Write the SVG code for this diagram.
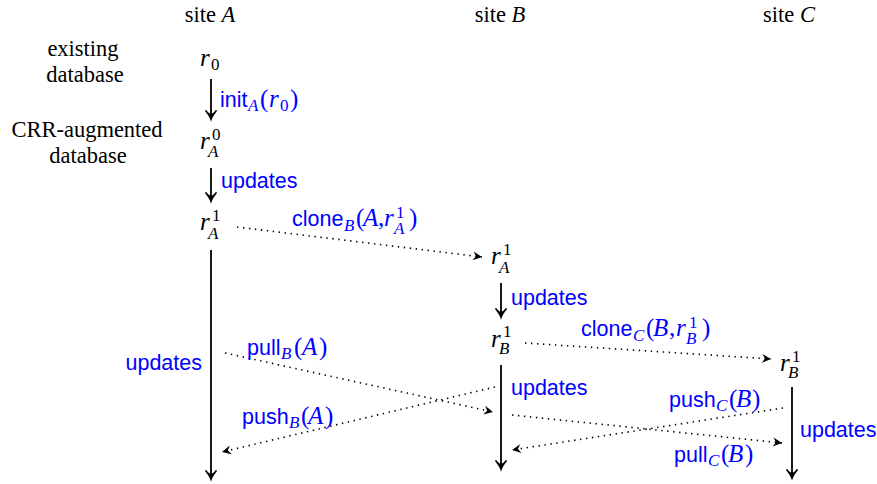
<svg xmlns="http://www.w3.org/2000/svg" width="877" height="484" viewBox="0 0 877 484">
<style>
.t{font-family:"Liberation Serif","Times New Roman",serif;font-size:22.5px;fill:#000}
.m{font-family:"Liberation Serif","Times New Roman",serif;font-size:25px;fill:#000}
.mb{font-family:"Liberation Serif","Times New Roman",serif;font-size:25px;fill:#0000ff}
.i{font-style:italic}
.s{font-size:17px}
.l{font-family:"Liberation Sans",Arial,sans-serif;font-size:21.5px;fill:#0000ff}
.solid{stroke:#000;stroke-width:1.8;fill:none}
.dot{stroke:#000;stroke-width:1.6;stroke-dasharray:1.4 4.6;fill:none}
</style>
<defs>
<marker id="ah" markerUnits="userSpaceOnUse" markerWidth="20" markerHeight="20" viewBox="-10 -10 20 20" refX="0" refY="0" orient="auto" overflow="visible">
<path d="M-8,-5 Q-3,-1 0,0 Q-3,1 -8,5" stroke="#000" stroke-width="1.8" fill="none" stroke-linecap="round"/>
<path d="M-7,-3.5 L0,0 L-7,3.5 Q-4,0 -7,-3.5 Z" fill="#000"/>
</marker>
<marker id="dh" markerUnits="userSpaceOnUse" markerWidth="20" markerHeight="20" viewBox="-10 -10 20 20" refX="0" refY="0" orient="auto" overflow="visible">
<path d="M0,0 L-9,-4.5 L-6,0 L-9,4.5 Z" fill="#000"/>
</marker>
</defs>

<g id="headers">
<text class="t" x="210" y="22" text-anchor="middle">site <tspan class="i">A</tspan></text>
<text class="t" x="500" y="22" text-anchor="middle">site <tspan class="i">B</tspan></text>
<text class="t" x="789" y="22" text-anchor="middle">site <tspan class="i">C</tspan></text>
</g>
<g id="side-labels">
<text class="t" x="83" y="56" text-anchor="middle">existing</text>
<text class="t" x="85" y="82" text-anchor="middle">database</text>
<text class="t" x="87" y="137" text-anchor="middle">CRR-augmented</text>
<text class="t" x="88" y="163" text-anchor="middle">database</text>
</g>

<g id="node-r0">
<text class="m"><tspan class="i" x="200" y="66">r</tspan><tspan class="s" x="211" y="70">0</tspan></text>
</g>
<g id="node-rA0">
<text class="m"><tspan class="i" x="200" y="149">r</tspan><tspan class="s" x="212" y="140">0</tspan><tspan class="s i" x="208" y="157">A</tspan></text>
</g>
<g id="node-rA1-siteA">
<text class="m"><tspan class="i" x="200" y="230">r</tspan><tspan class="s" x="212" y="221">1</tspan><tspan class="s i" x="208" y="239">A</tspan></text>
</g>
<g id="node-rA1-siteB">
<text class="m"><tspan class="i" x="491" y="264">r</tspan><tspan class="s" x="503" y="255">1</tspan><tspan class="s i" x="499" y="273">A</tspan></text>
</g>
<g id="node-rB1-siteB">
<text class="m"><tspan class="i" x="491" y="347">r</tspan><tspan class="s" x="503" y="337">1</tspan><tspan class="s i" x="499" y="354">B</tspan></text>
</g>
<g id="node-rB1-siteC">
<text class="m"><tspan class="i" x="780" y="371">r</tspan><tspan class="s" x="792" y="362">1</tspan><tspan class="s i" x="788" y="378">B</tspan></text>
</g>

<g id="connectors">
<line class="solid" x1="211" y1="79" x2="211" y2="119" marker-end="url(#ah)"/>
<line class="solid" x1="211" y1="168" x2="211" y2="201" marker-end="url(#ah)"/>
<line class="solid" x1="211" y1="250" x2="211" y2="479" marker-end="url(#ah)"/>
<line class="solid" x1="501" y1="283" x2="501" y2="317" marker-end="url(#ah)"/>
<line class="solid" x1="501" y1="365" x2="501" y2="469" marker-end="url(#ah)"/>
<line class="solid" x1="792" y1="387" x2="792" y2="478" marker-end="url(#ah)"/>
<line class="dot" x1="237" y1="227" x2="482" y2="257" marker-end="url(#dh)"/>
<line class="dot" x1="525" y1="343" x2="771" y2="359" marker-end="url(#dh)"/>
<line class="dot" x1="225" y1="353" x2="493" y2="412" marker-end="url(#dh)"/>
<line class="dot" x1="495" y1="387" x2="222" y2="452" marker-end="url(#dh)"/>
<line class="dot" x1="783" y1="408" x2="512" y2="450" marker-end="url(#dh)"/>
<line class="dot" x1="512" y1="415" x2="782" y2="443" marker-end="url(#dh)"/>
</g>

<g id="edge-labels">
<text class="l" x="220" y="107">init</text>
<text class="mb"><tspan class="s i" x="248" y="111">A</tspan><tspan x="260" y="107">(</tspan><tspan class="i" x="269" y="107">r</tspan><tspan class="s" x="280" y="111">0</tspan><tspan x="290" y="107">)</tspan></text>

<text class="l" x="221" y="188">updates</text>
<text class="l" x="511" y="305">updates</text>
<text class="l" x="202" y="370" text-anchor="end">updates</text>
<text class="l" x="511" y="395">updates</text>
<text class="l" x="800" y="437">updates</text>

<text class="l" x="292" y="226">clone</text>
<text class="mb"><tspan class="s i" x="344" y="231">B</tspan><tspan x="356" y="226">(</tspan><tspan class="i" x="363" y="226">A</tspan><tspan x="378" y="226">,</tspan><tspan class="i" x="384" y="226">r</tspan><tspan class="s" x="396" y="218">1</tspan><tspan class="s i" x="394" y="234">A</tspan><tspan x="409" y="226">)</tspan></text>

<text class="l" x="581" y="336">clone</text>
<text class="mb"><tspan class="s i" x="633" y="341">C</tspan><tspan x="646" y="336">(</tspan><tspan class="i" x="653" y="336">B</tspan><tspan x="669" y="336">,</tspan><tspan class="i" x="676" y="336">r</tspan><tspan class="s" x="689" y="328">1</tspan><tspan class="s i" x="686" y="344">B</tspan><tspan x="702" y="336">)</tspan></text>

<text class="l" x="247" y="355">pull</text>
<text class="mb"><tspan class="s i" x="281" y="359">B</tspan><tspan x="294" y="355">(</tspan><tspan class="i" x="302" y="355">A</tspan><tspan x="319" y="355">)</tspan></text>

<text class="l" x="242" y="424">push</text>
<text class="mb"><tspan class="s i" x="289" y="428">B</tspan><tspan x="301" y="424">(</tspan><tspan class="i" x="308" y="424">A</tspan><tspan x="325" y="424">)</tspan></text>

<text class="l" x="669" y="407">push</text>
<text class="mb"><tspan class="s i" x="716" y="411">C</tspan><tspan x="729" y="407">(</tspan><tspan class="i" x="736" y="407">B</tspan><tspan x="752" y="407">)</tspan></text>

<text class="l" x="674" y="462">pull</text>
<text class="mb"><tspan class="s i" x="708" y="466">C</tspan><tspan x="721" y="462">(</tspan><tspan class="i" x="728" y="462">B</tspan><tspan x="745" y="462">)</tspan></text>
</g>
</svg>
